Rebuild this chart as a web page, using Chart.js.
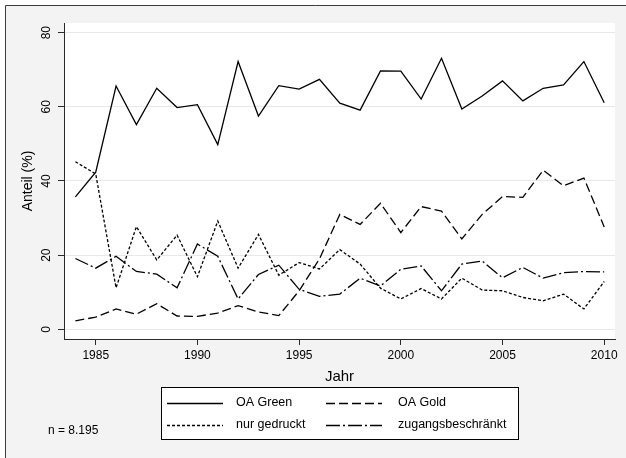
<!DOCTYPE html>
<html>
<head>
<meta charset="utf-8">
<script src="https://cdn.jsdelivr.net/npm/chart.js@4.4.0/dist/chart.umd.min.js"></script>
<style>
  html, body { margin: 0; padding: 0; background: #ffffff; }
  canvas { display: block; }
</style>
</head>
<body>
<canvas id="linien" width="626" height="458"></canvas>
<script>
// Daten (Anteil in %)
var jahre = [1984, 1985, 1986, 1987, 1988, 1989, 1990, 1991, 1992, 1993, 1994, 1995, 1996, 1997,
             1998, 1999, 2000, 2001, 2002, 2003, 2004, 2005, 2006, 2007, 2008, 2009, 2010];
var xTicks = [1985, 1990, 1995, 2000, 2005, 2010];
var yTicks = [0, 20, 40, 60, 80];

var oaGreen = [35.7, 42.4, 65.6, 55.2, 65.0, 59.8, 60.6, 49.8, 72.2, 57.5, 65.7, 64.8, 67.4, 61.0,
               59.1, 69.7, 69.6, 62.1, 73.1, 59.4, 62.9, 67.0, 61.6, 65.0, 65.9, 72.2, 61.1];
var oaGold = [2.3, 3.3, 5.5, 4.1, 6.9, 3.6, 3.5, 4.4, 6.4, 4.7, 3.7, 10.4, 19.0, 31.0,
              28.3, 34.0, 26.1, 33.1, 31.9, 24.4, 31.0, 35.8, 35.6, 42.9, 38.7, 40.8, 27.6];
var nurGedruckt = [45.2, 41.9, 11.2, 27.7, 18.7, 25.4, 14.2, 29.2, 16.5, 25.6, 14.6, 18.0, 16.3, 21.5,
                   17.6, 11.1, 8.2, 11.0, 8.2, 13.8, 10.6, 10.4, 8.6, 7.7, 9.5, 5.5, 12.9];
var zugangsbeschraenkt = [19.1, 16.5, 19.7, 15.6, 14.9, 11.2, 23.0, 19.7, 8.2, 14.8, 17.3, 10.8, 8.9, 9.5,
                          13.8, 11.7, 16.2, 17.1, 10.4, 17.6, 18.4, 13.9, 16.7, 13.8, 15.3, 15.6, 15.5];

var serienNamen = ["OA Green", "OA Gold", "nur gedruckt", "zugangsbeschränkt"];
var fallzahl = "n = 8.195";

var schrift = "Arial, 'Liberation Sans', sans-serif";

/**
 * Wandelt eine Werteliste in {x, y}-Punkte für die lineare x-Achse um
 */
function punkte(werte) {
    return jahre.map(function (jahr, i) {
        return { x: jahr, y: werte[i] };
    });
}

/**
 * Hintergrund: grauer Rahmenbereich und weisse Plotfläche
 */
var hintergrund = {
    id: "hintergrund",
    beforeDraw: function (chart) {
        var ctx = chart.ctx;
        var w = chart.width, h = chart.height;
        var a = chart.chartArea;
        ctx.save();
        ctx.fillStyle = "#ffffff";
        ctx.fillRect(0, 0, w, h);
        ctx.fillStyle = "#f3f3f3";
        ctx.fillRect(5, 5, w - 5, h - 5);
        ctx.strokeStyle = "#3c3c3c";
        ctx.lineWidth = 1;
        ctx.beginPath();
        ctx.moveTo(5.5, h);
        ctx.lineTo(5.5, 5.5);
        ctx.lineTo(w, 5.5);
        ctx.stroke();
        ctx.fillStyle = "#ffffff";
        ctx.fillRect(a.left, a.top, a.right - a.left, a.bottom - a.top);
        ctx.restore();
    }
};

/**
 * Senkrechte y-Beschriftung, Legende im Kasten und Fallzahl
 */
var beschriftung = {
    id: "beschriftung",
    afterDraw: function (chart) {
        var ctx = chart.ctx;
        var y = chart.scales.y;
        ctx.save();
        ctx.fillStyle = "#000000";
        ctx.font = "12px " + schrift;
        ctx.textAlign = "center";
        ctx.textBaseline = "middle";
        y.ticks.forEach(function (t) {
            var py = y.getPixelForValue(t.value);
            ctx.save();
            ctx.translate(47, py);
            ctx.rotate(-Math.PI / 2);
            ctx.fillText(String(t.value), 0, 0);
            ctx.restore();
        });

        // Legende
        ctx.fillStyle = "#ffffff";
        ctx.fillRect(161, 387, 357, 52);
        ctx.strokeStyle = "#000000";
        ctx.lineWidth = 1;
        ctx.strokeRect(161.5, 387.5, 357, 52);

        var spalteLinie = [167, 326];
        var spalteText = [236, 398];
        var zeileY = [403, 425];
        chart.data.datasets.forEach(function (ds, i) {
            var sp = i % 2, ze = Math.floor(i / 2);
            var ly = zeileY[ze] + 0.5;
            ctx.save();
            ctx.strokeStyle = ds.borderColor;
            ctx.lineWidth = ds.borderWidth;
            ctx.setLineDash(ds.borderDash || []);
            ctx.beginPath();
            ctx.moveTo(spalteLinie[sp], ly);
            ctx.lineTo(spalteLinie[sp] + 56, ly);
            ctx.stroke();
            ctx.restore();
            ctx.fillStyle = "#000000";
            ctx.font = "12.5px " + schrift;
            ctx.textAlign = "left";
            ctx.textBaseline = "middle";
            ctx.fillText(ds.label, spalteText[sp], zeileY[ze]);
        });

        ctx.font = "12px " + schrift;
        ctx.textAlign = "left";
        ctx.fillText(fallzahl, 48, 431);
        ctx.restore();
    }
};

function cargaGrafico() {
    var datos = {
        datasets: [{
            label: serienNamen[0],
            data: punkte(oaGreen),
            borderColor: "#000000",
            borderWidth: 1.3,
            borderDash: []
        }, {
            label: serienNamen[1],
            data: punkte(oaGold),
            borderColor: "#000000",
            borderWidth: 1.3,
            borderDash: [9, 4]
        }, {
            label: serienNamen[2],
            data: punkte(nurGedruckt),
            borderColor: "#000000",
            borderWidth: 1.3,
            borderDash: [3, 2]
        }, {
            label: serienNamen[3],
            data: punkte(zugangsbeschraenkt),
            borderColor: "#000000",
            borderWidth: 1.3,
            borderDash: [14, 3, 2, 3]
        }]
    };

    var config = {
        type: "line",
        data: datos,
        plugins: [hintergrund, beschriftung],
        options: {
            responsive: false,
            animation: false,
            devicePixelRatio: 1,
            layout: {
                padding: { left: 0, top: 23, right: 11, bottom: 72 }
            },
            elements: {
                point: { radius: 0 },
                line: { tension: 0, fill: false }
            },
            plugins: {
                legend: { display: false },
                tooltip: { enabled: false }
            },
            scales: {
                x: {
                    type: "linear",
                    min: 1983.44,
                    max: 2010.53,
                    afterBuildTicks: function (scale) {
                        scale.ticks = xTicks.map(function (v) { return { value: v }; });
                    },
                    afterFit: function (scale) {
                        scale.height = 47;
                    },
                    ticks: {
                        color: "#000000",
                        padding: 3,
                        maxRotation: 0,
                        font: { family: schrift, size: 12 },
                        callback: function (v) { return String(v); }
                    },
                    grid: {
                        drawOnChartArea: false,
                        drawTicks: true,
                        tickLength: 6,
                        tickColor: "#2b2b2b"
                    },
                    border: { color: "#2b2b2b", width: 1 },
                    title: {
                        display: true,
                        text: "Jahr",
                        color: "#000000",
                        padding: { top: 0, bottom: 0 },
                        font: { family: schrift, size: 15 }
                    }
                },
                y: {
                    min: -2.6,
                    max: 82.6,
                    afterBuildTicks: function (scale) {
                        scale.ticks = yTicks.map(function (v) { return { value: v }; });
                    },
                    afterFit: function (scale) {
                        scale.width = 64;
                    },
                    ticks: { display: false },
                    grid: {
                        color: "#e8e8e8",
                        lineWidth: 1,
                        drawTicks: true,
                        tickLength: 6,
                        tickColor: "#2b2b2b"
                    },
                    border: { color: "#2b2b2b", width: 1 },
                    title: {
                        display: true,
                        text: "Anteil (%)",
                        color: "#000000",
                        padding: { top: 20, bottom: 0 },
                        font: { family: schrift, size: 14 }
                    }
                }
            }
        }
    };

    var grafico = document.getElementById("linien").getContext("2d");
    new Chart(grafico, config);
}

cargaGrafico();
</script>
</body>
</html>
